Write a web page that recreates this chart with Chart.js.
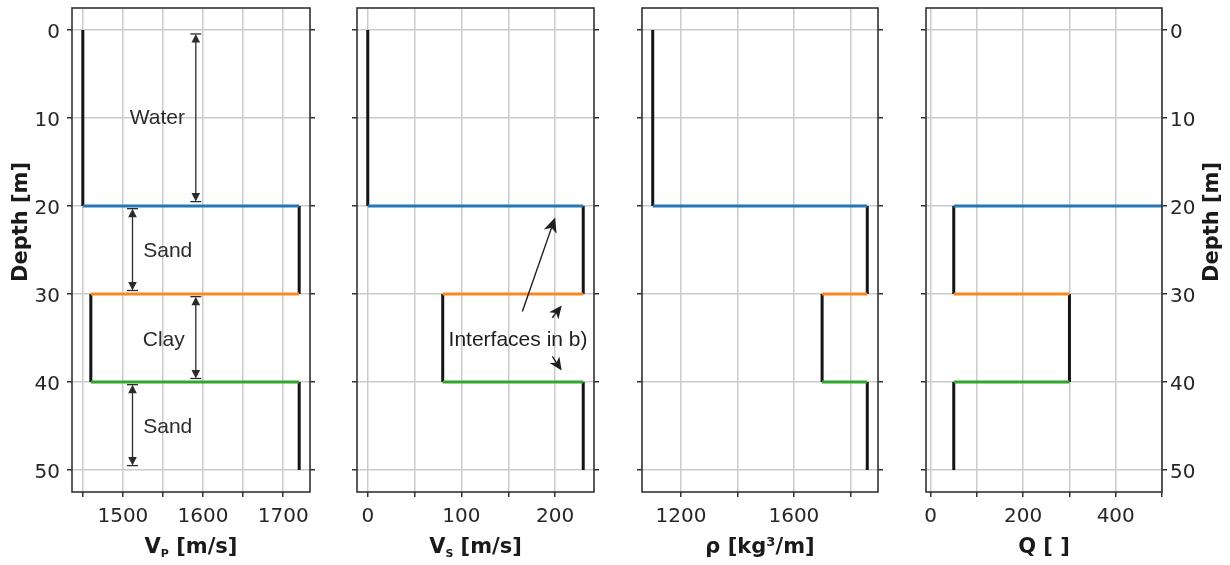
<!DOCTYPE html>
<html><head><meta charset="utf-8">
<script src="https://cdn.jsdelivr.net/npm/chart.js@4.4.1/dist/chart.umd.min.js"></script>
<style>
html,body{margin:0;padding:0;background:#fff;}
#wrap{position:relative;width:1230px;height:565px;background:#fff;}
canvas{position:absolute;left:0;top:0;}
</style></head><body>
<div id="wrap">
<canvas id="c1" width="1230" height="565"></canvas>
<canvas id="c2" width="1230" height="565"></canvas>
<canvas id="c3" width="1230" height="565"></canvas>
<canvas id="c4" width="1230" height="565"></canvas>
</div>
<script>
// ---------------- data ----------------
const layerNames = ['Water', 'Sand', 'Clay', 'Sand'];
const layerTop = [0, 20, 30, 40];
const layerBottom = [20, 30, 40, 50];
const vpValues = [1450, 1720, 1460, 1720];
const vsValues = [0, 230, 80, 230];
const rhoValues = [1100, 1860, 1700, 1860];
const qValues = [10000, 50, 300, 50];   // water Q is off the plotted range

const depthTicks = [0, 10, 20, 30, 40, 50];
const vpTicks = [1450, 1500, 1550, 1600, 1650, 1700];
const vpTickLabels = [1500, 1600, 1700];
const vsTicks = [0, 50, 100, 150, 200];
const vsTickLabels = [0, 100, 200];
const rhoTicks = [1200, 1400, 1600, 1800];
const rhoTickLabels = [1200, 1600];
const qTicks = [0, 100, 200, 300, 400, 500];
const qTickLabels = [0, 200, 400];

// annotations (data coordinates)
const layerLabelX = [1543, 1556, 1551, 1556];
const layerLabelDepth = [9.8, 24.9, 35.0, 44.9];
const layerArrowX = [1591, 1512, 1591, 1512];
const layerArrowTop = [0.45, 20.3, 30.3, 40.3];
const layerArrowBottom = [19.5, 29.6, 39.6, 49.5];
const noteText = 'Interfaces in b)';
const noteX = 160.4;
const noteDepth = 35.05;
const noteArrowFromX = [165, 197, 197];
const noteArrowFromDepth = [32.0, 32.7, 37.1];
const noteArrowToX = [200, 207, 207];
const noteArrowToDepth = [21.3, 31.3, 38.7];

// ---------------- styling / layout ----------------
const W = 1230, H = 565;
const interfaceColors = ['#2677b6', '#fb8722', '#2fa52f'];
const AREA_TOP = 8, AREA_BOTTOM = 492;
const TICK_FONT = {family: 'DejaVu Sans', size: 20};
const TICK_COLOR = '#262626';
const GRID_COLOR = '#cbcbcb';

function profileDatasets(vals) {
  const ds = [];
  for (let j = 1; j < vals.length; j++) {
    ds.push({data: [{x: vals[j - 1], y: layerTop[j]}, {x: vals[j], y: layerTop[j]}],
      borderColor: interfaceColors[j - 1], order: 1});
  }
  for (let i = 0; i < vals.length; i++) {
    ds.push({data: [{x: vals[i], y: layerTop[i]}, {x: vals[i], y: layerBottom[i]}],
      borderColor: '#141414', order: 2});
  }
  return ds.map(d => Object.assign({showLine: true, pointRadius: 0, pointHoverRadius: 0,
    borderWidth: 3, fill: false, tension: 0}, d));
}

function zeroPad(s) { s.paddingTop = 0; s.paddingBottom = 0; s.paddingLeft = 0; s.paddingRight = 0; }

function yScale(position, showLabels, onArea, boxWidth) {
  return {
    type: 'linear', position: position, reverse: true, min: -2.5, max: 52.5,
    afterBuildTicks: s => { s.ticks = depthTicks.map(v => ({value: v})); },
    afterFit: s => { s.width = boxWidth; zeroPad(s); },
    ticks: {display: showLabels, font: TICK_FONT, color: TICK_COLOR, padding: position === 'left' ? 7 : 3,
      autoSkip: false, labelOffset: 3},
    grid: {display: true, drawOnChartArea: onArea, color: GRID_COLOR, lineWidth: 1.5,
      tickColor: '#333', tickLength: 5, tickWidth: 1.5, drawTicks: true},
    border: {display: false}
  };
}

const framePlugin = {
  id: 'frame',
  afterDatasetsDraw(chart) {
    const {ctx, chartArea: a} = chart;
    ctx.save();
    ctx.strokeStyle = '#333';
    ctx.lineWidth = 1.6;
    ctx.strokeRect(a.left, a.top, a.right - a.left, a.bottom - a.top);
    ctx.restore();
  }
};

function drawRich(ctx, parts, cx, baseline) {
  let total = 0;
  parts.forEach(p => { ctx.font = 'bold ' + p.size + 'px "DejaVu Sans"'; p.w = ctx.measureText(p.t).width; total += p.w; });
  let x = cx - total / 2;
  ctx.textAlign = 'left';
  ctx.textBaseline = 'alphabetic';
  parts.forEach(p => {
    ctx.font = 'bold ' + p.size + 'px "DejaVu Sans"';
    ctx.fillText(p.t, x, baseline + (p.dy || 0));
    x += p.w;
  });
}

function titlePlugin(xParts, yTitle) {
  return {
    id: 'titles',
    afterDraw(chart) {
      const {ctx, chartArea: a} = chart;
      ctx.save();
      ctx.fillStyle = '#1a1a1a';
      drawRich(ctx, xParts, (a.left + a.right) / 2, 553);
      if (yTitle) {
        ctx.translate(yTitle.x, 222);
        ctx.rotate(-Math.PI / 2);
        drawRich(ctx, [{t: 'Depth [m]', size: 21}], 0, 0);
      }
      ctx.restore();
    }
  };
}

function capArrow(ctx, x, y1, y2) {
  ctx.beginPath(); ctx.moveTo(x, y1 + 3); ctx.lineTo(x, y2 - 3); ctx.stroke();
  [[y1, 1], [y2, -1]].forEach(([y, d]) => {
    ctx.beginPath(); ctx.moveTo(x - 5.5, y); ctx.lineTo(x + 5.5, y); ctx.stroke();
    ctx.beginPath(); ctx.moveTo(x, y); ctx.lineTo(x - 4.3, y + d * 8.5); ctx.lineTo(x + 4.3, y + d * 8.5); ctx.closePath(); ctx.fill();
  });
}

function headArrow(ctx, x1, y1, x2, y2, headLen) {
  const ang = Math.atan2(y2 - y1, x2 - x1);
  const bx = x2 - Math.cos(ang) * headLen * 0.72, by = y2 - Math.sin(ang) * headLen * 0.72;
  ctx.beginPath(); ctx.moveTo(x1, y1); ctx.lineTo(bx, by); ctx.stroke();
  const hw = headLen * 0.45;
  const px = -Math.sin(ang), py = Math.cos(ang);
  const rx = x2 - Math.cos(ang) * headLen, ry = y2 - Math.sin(ang) * headLen;
  ctx.beginPath();
  ctx.moveTo(x2, y2);
  ctx.lineTo(rx + px * hw, ry + py * hw);
  ctx.lineTo(bx, by);
  ctx.lineTo(rx - px * hw, ry - py * hw);
  ctx.closePath(); ctx.fill();
}

const layerAnnotPlugin = {
  id: 'layerAnnot',
  afterDraw(chart) {
    const {ctx} = chart; const xs = chart.scales.x, ys = chart.scales.y;
    ctx.save();
    ctx.fillStyle = '#2b2b2b'; ctx.strokeStyle = '#2b2b2b'; ctx.lineWidth = 1.3;
    ctx.font = '21px "Liberation Sans"'; ctx.textAlign = 'center'; ctx.textBaseline = 'alphabetic';
    for (let i = 0; i < layerNames.length; i++) {
      ctx.fillText(layerNames[i], xs.getPixelForValue(layerLabelX[i]), ys.getPixelForValue(layerLabelDepth[i]) + 7.5);
      capArrow(ctx, xs.getPixelForValue(layerArrowX[i]), ys.getPixelForValue(layerArrowTop[i]), ys.getPixelForValue(layerArrowBottom[i]));
    }
    ctx.restore();
  }
};

const noteAnnotPlugin = {
  id: 'noteAnnot',
  afterDraw(chart) {
    const {ctx} = chart; const xs = chart.scales.x, ys = chart.scales.y;
    ctx.save();
    ctx.fillStyle = '#1e1e1e'; ctx.strokeStyle = '#1e1e1e'; ctx.lineWidth = 1.4;
    ctx.font = '21px "Liberation Sans"'; ctx.textAlign = 'center'; ctx.textBaseline = 'alphabetic';
    ctx.fillText(noteText, xs.getPixelForValue(noteX), ys.getPixelForValue(noteDepth) + 7.5);
    for (let i = 0; i < noteArrowFromX.length; i++) {
      headArrow(ctx, xs.getPixelForValue(noteArrowFromX[i]), ys.getPixelForValue(noteArrowFromDepth[i]),
        xs.getPixelForValue(noteArrowToX[i]), ys.getPixelForValue(noteArrowToDepth[i]), i === 0 ? 15 : 13);
    }
    ctx.restore();
  }
};

function makePanel(id, vals, left, right, xMin, xMax, xTicks, xLabels, xParts, leftLabels, rightLabels, yTitle, extra) {
  const plugins = [framePlugin, titlePlugin(xParts, yTitle)];
  if (extra) plugins.push(extra);
  const leftW = leftLabels ? left : 0;
  const rightW = rightLabels ? W - right : 0;
  return new Chart(document.getElementById(id), {
    type: 'scatter',
    data: {datasets: profileDatasets(vals)},
    options: {
      responsive: false, animation: false, devicePixelRatio: 1, events: [],
      layout: {padding: {left: left - leftW, right: W - right - rightW, top: AREA_TOP, bottom: 0}},
      plugins: {legend: {display: false}, tooltip: {enabled: false}},
      scales: {
        x: {
          type: 'linear', position: 'bottom', min: xMin, max: xMax,
          afterBuildTicks: s => { s.ticks = xTicks.map(v => ({value: v})); },
          afterFit: s => { s.height = H - AREA_BOTTOM; zeroPad(s); },
          ticks: {font: TICK_FONT, color: TICK_COLOR, padding: 8, autoSkip: false, maxRotation: 0,
            callback: v => xLabels.includes(v) ? String(v) : ''},
          grid: {color: GRID_COLOR, lineWidth: 1.5, tickColor: '#333', tickLength: 5, tickWidth: 1.5, drawTicks: true},
          border: {display: false}
        },
        y: yScale('left', leftLabels, true, leftW),
        y2: yScale('right', rightLabels, false, rightW)
      }
    },
    plugins: plugins
  });
}

makePanel('c1', vpValues, 72, 310, 1436.5, 1733.5, vpTicks, vpTickLabels,
  [{t: 'V', size: 21}, {t: 'P', size: 11, dy: 4}, {t: ' [m/s]', size: 21}], true, false, {x: 27}, layerAnnotPlugin);
makePanel('c2', vsValues, 357, 594, -11.5, 241.5, vsTicks, vsTickLabels,
  [{t: 'V', size: 21}, {t: 'S', size: 11, dy: 4}, {t: ' [m/s]', size: 21}], false, false, null, noteAnnotPlugin);
makePanel('c3', rhoValues, 642, 878, 1062, 1898, rhoTicks, rhoTickLabels,
  [{t: 'ρ [kg³/m]', size: 21}], false, false, null, null);
makePanel('c4', qValues, 926, 1162, -10, 500, qTicks, qTickLabels,
  [{t: 'Q [ ]', size: 21}], false, true, {x: 1218}, null);
</script>
</body></html>
